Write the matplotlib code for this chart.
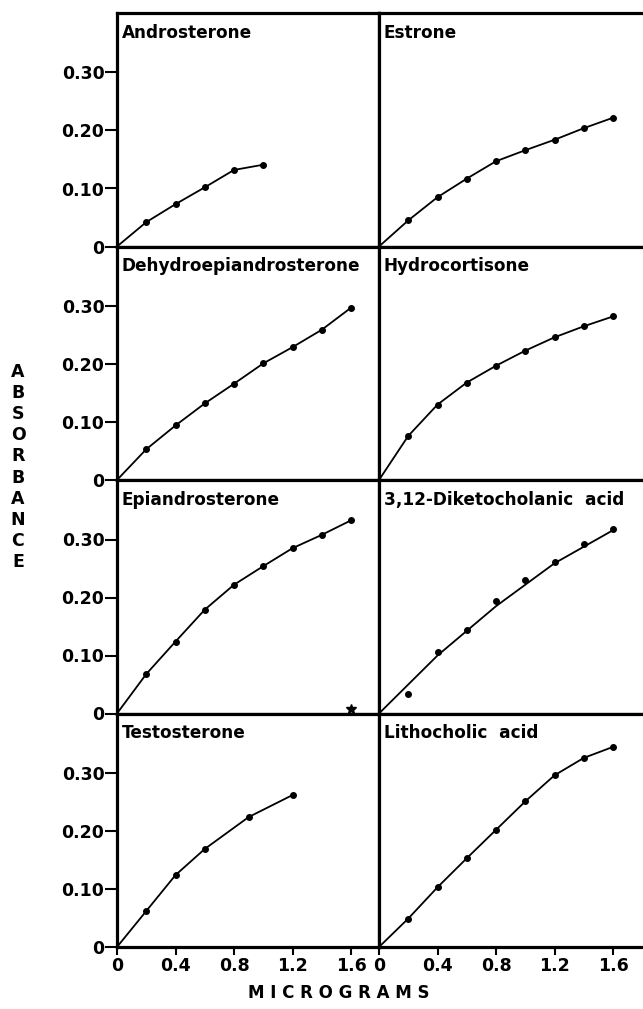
import matplotlib.pyplot as plt

## ## data (micrograms vs absorbance)
x8 = [0.2, 0.4, 0.6, 0.8, 1.0, 1.2, 1.4, 1.6]

andro_x = [0.2, 0.4, 0.6, 0.8, 1.0]
andro_y = [0.042, 0.073, 0.102, 0.132, 0.141]

estrone_y = [0.045, 0.085, 0.117, 0.147, 0.166, 0.184, 0.204, 0.222]
dhea_y = [0.053, 0.094, 0.132, 0.166, 0.201, 0.229, 0.259, 0.297]
hydro_y = [0.076, 0.130, 0.168, 0.197, 0.223, 0.246, 0.265, 0.282]
epi_y = [0.068, 0.124, 0.179, 0.222, 0.254, 0.285, 0.308, 0.333]
diketo_y = [0.034, 0.106, 0.144, 0.194, 0.230, 0.261, 0.292, 0.318]
litho_y = [0.049, 0.103, 0.153, 0.202, 0.251, 0.296, 0.326, 0.345]

testo_x = [0.2, 0.4, 0.6, 0.9, 1.2]
testo_y = [0.062, 0.124, 0.169, 0.224, 0.262]

# hand drawn fit line for the diketocholanic panel (points scatter around it)
diketo_fit_x = [0, 0.4, 0.8, 1.2, 1.6]
diketo_fit_y = [0, 0.100, 0.185, 0.259, 0.316]

# stray asterisk in the epiandrosterone panel
epi_stray_x = [1.6]
epi_stray_y = [0.008]

panels = [
    ("Androsterone", andro_x, andro_y, None),
    ("Estrone", x8, estrone_y, None),
    ("Dehydroepiandrosterone", x8, dhea_y, None),
    ("Hydrocortisone", x8, hydro_y, None),
    ("Epiandrosterone", x8, epi_y, None),
    ("3,12-Diketocholanic  acid", x8, diketo_y, (diketo_fit_x, diketo_fit_y)),
    ("Testosterone", testo_x, testo_y, None),
    ("Lithocholic  acid", x8, litho_y, None),
]

y_ticks = [0, 0.10, 0.20, 0.30]
y_ticklabels = ["0", "0.10", "0.20", "0.30"]
x_ticks = [0, 0.4, 0.8, 1.2, 1.6]
x_ticklabels = ["0", "0.4", "0.8", "1.2", "1.6"]

plt.rcParams['font.family'] = 'DejaVu Sans'
plt.rcParams['font.weight'] = 'bold'

W, H = 643, 1009
fig = plt.figure(figsize=(W / 100, H / 100), dpi=100)

## ## panel geometry in pixels
col_left = [117, 379]
col_width = [262, 270]
row_top = 13
row_h = 233.5
px_per_x = 146.25   # pixels per microgram
px_per_y = 580.0    # pixels per absorbance unit

for i, (name, xs, ys, fit) in enumerate(panels):
    r, c = divmod(i, 2)
    top = row_top + r * row_h
    ax = fig.add_axes([col_left[c] / W, 1 - (top + row_h) / H,
                       col_width[c] / W, row_h / H])
    ax.set_xlim(0, col_width[c] / px_per_x)
    ax.set_ylim(0, row_h / px_per_y)

    if fit is None:
        ax.plot([0] + list(xs), [0] + list(ys), color="black", lw=1.3)
    else:
        ax.plot(fit[0], fit[1], color="black", lw=1.3)
    ax.plot(xs, ys, "o", color="black", ms=4)
    if name == "Epiandrosterone":
        ax.plot(epi_stray_x, epi_stray_y, "*", color="black", ms=7)

    ax.text(0.017, 0.955, name, transform=ax.transAxes, ha="left", va="top",
            fontsize=12.2, fontweight="bold")

    for s in ax.spines.values():
        s.set_linewidth(2.3)
    if c == 1:
        ax.spines["right"].set_visible(False)

    if c == 0:
        ax.set_yticks(y_ticks)
        ax.set_yticklabels(y_ticklabels)
        ax.tick_params(axis="y", direction="out", length=9, width=1.5,
                       labelsize=12.5, pad=0)
    else:
        ax.set_yticks([])

    if r == 3:
        ax.set_xticks(x_ticks)
        ax.set_xticklabels(x_ticklabels)
        ax.tick_params(axis="x", direction="out", length=6, width=1.5,
                       labelsize=12.5, pad=1)
    else:
        ax.set_xticks([])

## axis titles
fig.text(339 / W, 1 - 993 / H, "M I C R O G R A M S", ha="center", va="center",
         fontsize=12, fontweight="bold")
fig.text(18 / W, 1 - 467 / H, "\n".join("ABSORBANCE"), ha="center", va="center",
         fontsize=12.5, fontweight="bold", linespacing=1.22)

plt.savefig("out.png", dpi=100)
